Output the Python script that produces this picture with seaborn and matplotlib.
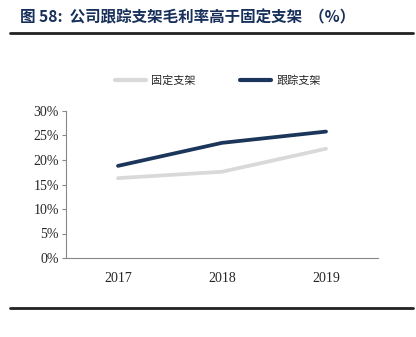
import matplotlib
matplotlib.use("Agg")
import matplotlib.pyplot as plt
import seaborn as sns
import pandas as pd
from matplotlib.lines import Line2D

years = ["2017", "2018", "2019"]
fixed = [16.3, 17.6, 22.3]
tracking = [18.8, 23.5, 25.8]
series_names = ["固定支架", "跟踪支架"]
yticks = [0, 5, 10, 15, 20, 25, 30]

sns.set_style("white")
plt.rcParams['font.family'] = ['Liberation Serif', 'Noto Sans CJK SC']

W, H = 416, 337
fig = plt.figure(figsize=(W/100, H/100), dpi=100)
ax = fig.add_axes([66/W, 1-258/H, (378-66)/W, (258-111)/H])

df = pd.DataFrame({
    "year": years * 2,
    "value": fixed + tracking,
    "series": [series_names[0]]*3 + [series_names[1]]*3,
})
palette = {series_names[0]: "#D9D9D9", series_names[1]: "#1B355B"}
df["x"] = [0, 1, 2] * 2
sns.lineplot(data=df, x="x", y="value", hue="series", palette=palette,
             linewidth=2.7, ax=ax, legend=False, sort=False)

ax.set_xlim(-0.5, 2.5)
ax.set_ylim(0, 30)
ax.set_yticks(yticks)
ax.set_yticklabels([f"{v}%" for v in yticks], fontsize=10, family="Liberation Serif")
ax.set_xticks([0, 1, 2])
ax.set_xticklabels(years, fontsize=10, family="Liberation Serif")
ax.set_xticks([-0.5, 0.5, 1.5, 2.5], minor=True)
ax.tick_params(axis="x", which="major", length=0, pad=10)
ax.tick_params(axis="x", which="minor", length=4, direction="in", color="#888888", width=0.8)
ax.tick_params(axis="y", length=3, direction="out", color="#888888", width=0.8, pad=2, left=True)
ax.set_xlabel("")
ax.set_ylabel("")
for s in ["top", "right"]:
    ax.spines[s].set_visible(False)
for s in ["left", "bottom"]:
    ax.spines[s].set_color("#888888")
    ax.spines[s].set_linewidth(0.8)

handles = [Line2D([0], [0], color=palette[n], lw=3) for n in series_names]
fig.legend(handles, series_names, loc="center", bbox_to_anchor=(218/W, 1-81/H), ncol=2,
           frameon=False, handlelength=2.8, columnspacing=4.0, handletextpad=0.45,
           prop={"family": "Noto Sans CJK SC", "size": 8})

fig.text(20/W, 1-17/H, "图 58:  公司跟踪支架毛利率高于固定支架  （%）", fontsize=11.2, fontweight="bold",
         color="#17305A", va="center", ha="left", family=["Noto Sans CJK SC", "DejaVu Sans"])
fig.add_artist(Line2D([10/W, 413/W], [1-33/H, 1-33/H], color="#222222", lw=2))
fig.add_artist(Line2D([10/W, 413/W], [1-308/H, 1-308/H], color="#222222", lw=2))

fig.savefig("out.png", dpi=100)
